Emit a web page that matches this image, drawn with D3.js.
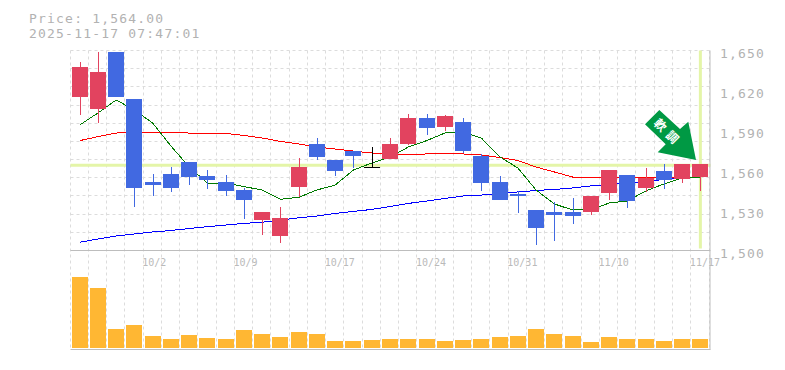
<!DOCTYPE html>
<html>
<head>
<meta charset="utf-8">
<script src="https://cdn.jsdelivr.net/npm/d3@7"></script>
<style>
  body { margin: 0; background: #fff; }
  text { font-family: "DejaVu Sans Mono", monospace; }
</style>
</head>
<body>
<div id="chart"></div>
<script>
const titleLines = ['Price: 1,564.00', '2025-11-17 07:47:01'];

const opens = [1615, 1606.5, 1649, 1613.5, 1551.5, 1557.5, 1566.5, 1556, 1551.5, 1545.5, 1523, 1511, 1547.5, 1580, 1568, 1574.5, 1563, 1568.5, 1580, 1599.5, 1592.5, 1596.5, 1571, 1551.5, 1542.5, 1530.5, 1529, 1529, 1529, 1543, 1556.5, 1547, 1559.5, 1553.5, 1555];
const closes = [1638, 1634, 1615, 1547, 1549, 1547, 1555, 1553, 1544.5, 1538, 1529, 1524.5, 1562.5, 1570, 1559.5, 1571, 1563, 1580, 1599.5, 1592, 1601, 1574.5, 1550.5, 1538, 1541, 1517, 1526.5, 1526, 1541, 1560.5, 1537, 1554.5, 1553, 1565, 1565];
const highs = [1641.5, 1649, 1649, 1613.5, 1557.5, 1562.5, 1566.5, 1560.5, 1556.5, 1547, 1529, 1532.5, 1569.5, 1584.5, 1568, 1574.5, 1577.5, 1584.5, 1602.5, 1602.5, 1601.5, 1599.5, 1572.5, 1556, 1544.5, 1530.5, 1536.5, 1539.5, 1541, 1560.5, 1556.5, 1562, 1565, 1565, 1565];
const lows = [1601.5, 1596, 1615, 1533, 1541, 1544, 1549, 1546, 1541, 1523.5, 1511.5, 1505.5, 1540, 1568, 1556, 1562, 1563, 1568.5, 1579, 1586.5, 1589.5, 1573, 1544.5, 1538, 1528, 1504, 1507, 1520, 1526.5, 1538, 1532, 1544, 1546, 1550.5, 1544.5];

const maShort = [1594.1, 1603.1, 1612.9, 1605.4, 1595.6, 1578.4, 1562.6, 1550.6, 1550.6, 1547.9, 1545.4, 1538.4, 1539.9, 1545.4, 1549.1, 1560.4, 1565.6, 1570.1, 1577.6, 1582.4, 1588.1, 1588.9, 1584.4, 1570.4, 1561.9, 1545.4, 1534.9, 1530.4, 1530.4, 1535.6, 1537.1, 1544.6, 1549.9, 1554.4, 1555.1];
const maMid = [1582.4, 1585.4, 1588.1, 1588.5, 1588.5, 1588.4, 1588.1, 1587.9, 1587.8, 1586.3, 1584.4, 1581.8, 1579.9, 1577.6, 1576.1, 1574.6, 1573.1, 1572, 1572, 1572.4, 1572.4, 1572.4, 1571.6, 1569.8, 1567.5, 1562.6, 1558.9, 1555.1, 1554.4, 1554.4, 1554.8, 1554.4, 1554.8, 1555.1, 1555.1];
const maLong = [1506.2, 1508.6, 1510.9, 1512.4, 1513.9, 1515, 1516.5, 1517.9, 1519.1, 1520.3, 1521.2, 1522.9, 1524.5, 1525.9, 1527.8, 1529.3, 1530.8, 1533, 1535.3, 1537.1, 1539, 1540.9, 1541.6, 1542.4, 1543.9, 1545, 1545.8, 1546.9, 1548.4, 1549.5, 1550.8, 1551.8, 1553.3, 1554.8, 1555.1];

const volumes = [710, 600, 190, 230, 120, 90, 130, 100, 90, 180, 140, 110, 160, 140, 70, 70, 80, 90, 90, 90, 70, 80, 90, 110, 120, 190, 140, 120, 60, 110, 90, 90, 70, 90, 90];

const priceTicks = [1500, 1530, 1560, 1590, 1620, 1650];
const dateIndexes = [4, 9, 14, 19, 24, 29, 34];
const dateLabels = ['10/2', '10/9', '10/17', '10/24', '10/31', '11/10', '11/17'];
const lastPrice = 1564;
const arrowLabel = '軟調';

const plotLeft = 70.5, plotRight = 709.5, plotTop = 50.5, priceBottom = 250.5, volBottom = 349.5;
const gray = '#b2b2b2';

const svg = d3.select('#chart').append('svg')
  .attr('width', 785)
  .attr('height', 370)
  .style('display', 'block');

const x = d3.scaleBand().domain(d3.range(opens.length)).range([plotLeft, plotRight]);
const y = d3.scaleLinear().domain([1500, 1650]).range([priceBottom, plotTop]);
const yVol = d3.scaleLinear().domain([0, 1000]).range([348, 248]);
const cx = i => x(i) + x.bandwidth() / 2;

// grid
const grid = svg.append('g')
  .attr('stroke', '#dcdcdc')
  .attr('stroke-dasharray', '3,3');
d3.range(opens.length + 1).forEach(i => {
  const gx = Math.round(plotLeft + i * x.step()) - 0.5;
  grid.append('line').attr('x1', gx).attr('x2', gx).attr('y1', plotTop).attr('y2', volBottom);
});
d3.range(12).forEach(i => {
  const gy = Math.floor(plotTop + i * (priceBottom - plotTop) / 11) + 0.5;
  grid.append('line').attr('x1', plotLeft).attr('x2', plotRight).attr('y1', gy).attr('y2', gy);
});

// last price cross
svg.append('line')
  .attr('x1', plotLeft).attr('x2', plotRight + 1)
  .attr('y1', y(lastPrice)).attr('y2', y(lastPrice))
  .attr('stroke', '#e4f5a8').attr('stroke-width', 3);
svg.append('line')
  .attr('x1', cx(34)).attr('x2', cx(34))
  .attr('y1', plotTop).attr('y2', priceBottom - 2)
  .attr('stroke', '#e4f5a8').attr('stroke-width', 3);

// frame
const frame = svg.append('g').attr('stroke', '#bdbdbd').attr('stroke-width', 1);
frame.append('line').attr('x1', plotLeft).attr('x2', plotRight + 1).attr('y1', priceBottom).attr('y2', priceBottom);
frame.append('line').attr('x1', plotLeft).attr('x2', plotRight + 1).attr('y1', volBottom).attr('y2', volBottom);
frame.append('line').attr('x1', plotRight + 0.5).attr('x2', plotRight + 0.5).attr('y1', plotTop).attr('y2', volBottom);

// moving averages
const line = d3.line().x((d, i) => cx(i)).y(d => y(d));
[[maLong, '#0000ff'], [maMid, '#ff0000'], [maShort, '#007a00']].forEach(([vals, color]) => {
  svg.append('path')
    .attr('d', line(vals))
    .attr('fill', 'none')
    .attr('stroke', color)
    .attr('stroke-width', 1)
    .attr('shape-rendering', 'crispEdges');
});

// candles
const candleColor = i => closes[i] > opens[i] ? '#e2435f' : closes[i] < opens[i] ? '#4169e1' : '#000';
const candles = svg.append('g').attr('shape-rendering', 'crispEdges');
opens.forEach((o, i) => {
  const g = candles.append('g');
  const wx = Math.round(cx(i)) + 0.5;
  g.append('line')
    .attr('x1', wx).attr('x2', wx)
    .attr('y1', y(highs[i])).attr('y2', y(lows[i]))
    .attr('stroke', candleColor(i));
  const bodyTop = y(Math.max(o, closes[i]));
  const bodyH = Math.abs(y(o) - y(closes[i]));
  g.append('rect')
    .attr('x', wx - 8.5)
    .attr('y', bodyTop)
    .attr('width', 16)
    .attr('height', Math.max(bodyH, 1))
    .attr('fill', candleColor(i));
});

// volume
svg.append('g').selectAll('rect')
  .data(volumes)
  .enter()
  .append('rect')
  .attr('x', (d, i) => Math.round(cx(i)) - 8)
  .attr('y', d => yVol(d))
  .attr('width', 16)
  .attr('height', d => 348 - yVol(d))
  .attr('fill', '#ffb733');

// axes
const priceAxis = d3.axisRight(y)
  .tickValues(priceTicks)
  .tickSize(0)
  .tickPadding(0)
  .tickFormat(d3.format(','));
svg.append('g')
  .attr('transform', 'translate(720,0)')
  .call(priceAxis)
  .call(g => g.select('.domain').remove())
  .call(g => g.selectAll('text')
    .attr('dy', null)
    .attr('y', 7)
    .attr('x', 0)
    .attr('fill', gray)
    .style('font-size', '13px')
    .style('letter-spacing', '1.2px'));

const dateAxis = d3.axisBottom(x)
  .tickValues(dateIndexes)
  .tickSize(0)
  .tickPadding(0)
  .tickFormat(d => dateLabels[dateIndexes.indexOf(d)]);
svg.append('g')
  .attr('transform', `translate(0,${priceBottom})`)
  .call(dateAxis)
  .call(g => g.select('.domain').remove())
  .call(g => g.selectAll('text')
    .attr('dy', null)
    .attr('y', 15.5)
    .attr('x', -10.5)
    .attr('text-anchor', 'start')
    .attr('fill', '#bababa')
    .style('font-size', '10px'));

// title
svg.selectAll('.title')
  .data(titleLines)
  .enter()
  .append('text')
  .attr('class', 'title')
  .attr('x', 29)
  .attr('y', (d, i) => 22.7 + i * 15.2)
  .attr('fill', gray)
  .style('font-size', '13px')
  .style('letter-spacing', '1.2px')
  .text(d => d);

// arrow badge
svg.append('polygon')
  .attr('points', '645,124.3 659.3,110 680,129 688.3,121.7 696,160 657.7,152.3 665.7,144.3')
  .attr('fill', '#009944');
svg.append('text')
  .attr('transform', 'translate(668,133) rotate(45)')
  .attr('text-anchor', 'middle')
  .attr('dy', '0.35em')
  .attr('fill', '#fff')
  .style('font-family', '"Noto Sans CJK JP"')
  .style('font-weight', 'bold')
  .style('font-size', '12px')
  .style('letter-spacing', '5px')
  .text(arrowLabel);
</script>
</body>
</html>
